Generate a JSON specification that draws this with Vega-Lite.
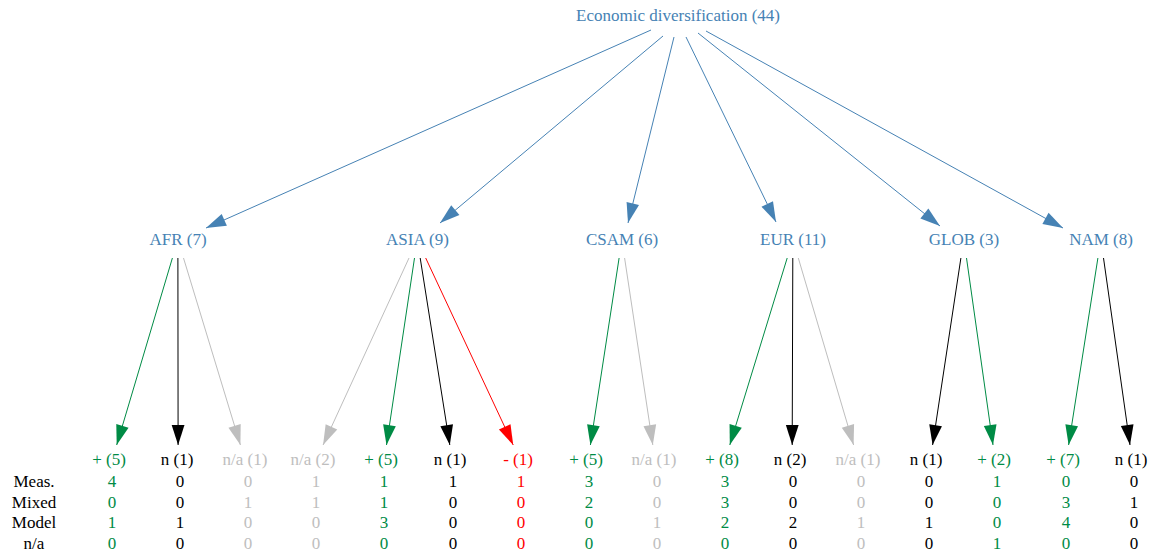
{
  "$schema": "https://vega.github.io/schema/vega-lite/v6.json",
  "width": 1153,
  "height": 554,
  "autosize": {"type": "fit", "contains": "padding"},
  "padding": 0,
  "background": "white",
  "config": {"view": {"stroke": null}},
  "datasets": {
    "edges": [
      {"x1": 651, "y1": 30, "x2": 206, "y2": 228, "k": "region"},
      {"x1": 663, "y1": 36, "x2": 440, "y2": 223, "k": "region"},
      {"x1": 674, "y1": 37, "x2": 628, "y2": 223, "k": "region"},
      {"x1": 686, "y1": 37, "x2": 776, "y2": 222, "k": "region"},
      {"x1": 698, "y1": 33, "x2": 940, "y2": 226, "k": "region"},
      {"x1": 706, "y1": 31, "x2": 1063, "y2": 228, "k": "region"},
      {"x1": 172.4, "y1": 258, "x2": 116.7, "y2": 445, "k": "+"},
      {"x1": 177.9, "y1": 258, "x2": 178.1, "y2": 445, "k": "n"},
      {"x1": 183.5, "y1": 258, "x2": 240.4, "y2": 445, "k": "n/a"},
      {"x1": 409.0, "y1": 258, "x2": 323.1, "y2": 445, "k": "n/a"},
      {"x1": 414.5, "y1": 258, "x2": 386.5, "y2": 445, "k": "+"},
      {"x1": 420.2, "y1": 258, "x2": 449.8, "y2": 445, "k": "n"},
      {"x1": 425.7, "y1": 258, "x2": 513.2, "y2": 445, "k": "-"},
      {"x1": 619.1, "y1": 258, "x2": 590.4, "y2": 445, "k": "+"},
      {"x1": 624.6, "y1": 258, "x2": 652.8, "y2": 445, "k": "n/a"},
      {"x1": 787.2, "y1": 258, "x2": 729.8, "y2": 445, "k": "+"},
      {"x1": 792.8, "y1": 258, "x2": 792.2, "y2": 445, "k": "n"},
      {"x1": 798.3, "y1": 258, "x2": 853.6, "y2": 445, "k": "n/a"},
      {"x1": 960.9, "y1": 258, "x2": 932.6, "y2": 445, "k": "n"},
      {"x1": 966.5, "y1": 258, "x2": 993.0, "y2": 445, "k": "+"},
      {"x1": 1097.9, "y1": 258, "x2": 1068.6, "y2": 445, "k": "+"},
      {"x1": 1103.5, "y1": 258, "x2": 1130.0, "y2": 445, "k": "n"}
    ],
    "nodes": [
      {"label": "Economic diversification (44)", "x": 678, "y": 16, "k": "region"},
      {"label": "AFR (7)", "x": 178, "y": 240, "k": "region"},
      {"label": "ASIA (9)", "x": 417.5, "y": 240, "k": "region"},
      {"label": "CSAM (6)", "x": 622, "y": 240, "k": "region"},
      {"label": "EUR (11)", "x": 793, "y": 240, "k": "region"},
      {"label": "GLOB (3)", "x": 964, "y": 240, "k": "region"},
      {"label": "NAM (8)", "x": 1101, "y": 240, "k": "region"}
    ],
    "leaves": [
      {"label": "+ (5)", "x": 109, "k": "+", "Meas": 4, "Mixed": 0, "Model": 1, "na": 0},
      {"label": "n (1)", "x": 177, "k": "n", "Meas": 0, "Mixed": 0, "Model": 1, "na": 0},
      {"label": "n/a (1)", "x": 245, "k": "n/a", "Meas": 0, "Mixed": 1, "Model": 0, "na": 0},
      {"label": "n/a (2)", "x": 313, "k": "n/a", "Meas": 1, "Mixed": 1, "Model": 0, "na": 0},
      {"label": "+ (5)", "x": 381, "k": "+", "Meas": 1, "Mixed": 1, "Model": 3, "na": 0},
      {"label": "n (1)", "x": 450, "k": "n", "Meas": 1, "Mixed": 0, "Model": 0, "na": 0},
      {"label": "- (1)", "x": 518, "k": "-", "Meas": 1, "Mixed": 0, "Model": 0, "na": 0},
      {"label": "+ (5)", "x": 586, "k": "+", "Meas": 3, "Mixed": 2, "Model": 0, "na": 0},
      {"label": "n/a (1)", "x": 654, "k": "n/a", "Meas": 0, "Mixed": 0, "Model": 1, "na": 0},
      {"label": "+ (8)", "x": 722, "k": "+", "Meas": 3, "Mixed": 3, "Model": 2, "na": 0},
      {"label": "n (2)", "x": 790, "k": "n", "Meas": 0, "Mixed": 0, "Model": 2, "na": 0},
      {"label": "n/a (1)", "x": 858, "k": "n/a", "Meas": 0, "Mixed": 0, "Model": 1, "na": 0},
      {"label": "n (1)", "x": 926, "k": "n", "Meas": 0, "Mixed": 0, "Model": 1, "na": 0},
      {"label": "+ (2)", "x": 994, "k": "+", "Meas": 1, "Mixed": 0, "Model": 0, "na": 1},
      {"label": "+ (7)", "x": 1063, "k": "+", "Meas": 0, "Mixed": 3, "Model": 4, "na": 0},
      {"label": "n (1)", "x": 1131, "k": "n", "Meas": 0, "Mixed": 1, "Model": 0, "na": 0}
    ],
    "rows": [
      {"key": "Meas", "row": "Meas.", "x": 34, "y": 482, "k": "label"},
      {"key": "Mixed", "row": "Mixed", "x": 34, "y": 502.5, "k": "label"},
      {"key": "Model", "row": "Model", "x": 34, "y": 523, "k": "label"},
      {"key": "na", "row": "n/a", "x": 34, "y": 544, "k": "label"}
    ]
  },
  "layer": [
    {
      "data": {"name": "edges"},
      "mark": {"type": "rule", "strokeWidth": 1},
      "encoding": {
        "x": {"field": "x1", "type": "quantitative", "scale": {"domain": [0, 1153], "nice": false, "zero": false}, "axis": null},
        "y": {"field": "y1", "type": "quantitative", "scale": {"domain": [0, 554], "reverse": true, "nice": false, "zero": false}, "axis": null},
        "x2": {"field": "x2"},
        "y2": {"field": "y2"},
        "color": {"field": "k", "type": "nominal", "legend": null,
          "scale": {"domain": ["region", "+", "n", "n/a", "-", "label"], "range": ["#4682b4", "#008b45", "#000000", "#bebebe", "#ff0000", "#000000"]}}
      }
    },
    {
      "data": {"name": "edges"},
      "transform": [{"calculate": "atan2(-(datum.x2 - datum.x1), datum.y2 - datum.y1) * 180 / PI", "as": "ang"}],
      "mark": {"type": "point", "shape": "M 0 0 L -0.32 -1 L 0.32 -1 Z", "filled": true, "size": 1600, "opacity": 1, "strokeWidth": 0},
      "encoding": {
        "x": {"field": "x2", "type": "quantitative"},
        "y": {"field": "y2", "type": "quantitative"},
        "angle": {"field": "ang", "type": "quantitative", "scale": null},
        "color": {"field": "k", "type": "nominal", "legend": null}
      }
    },
    {
      "data": {"name": "nodes"},
      "mark": {"type": "text", "align": "center", "baseline": "middle", "font": "Liberation Serif", "fontSize": 17},
      "encoding": {
        "x": {"field": "x", "type": "quantitative"},
        "y": {"field": "y", "type": "quantitative"},
        "text": {"field": "label"},
        "color": {"field": "k", "type": "nominal", "legend": null}
      }
    },
    {
      "data": {"name": "leaves"},
      "mark": {"type": "text", "align": "center", "baseline": "middle", "font": "Liberation Serif", "fontSize": 17},
      "encoding": {
        "x": {"field": "x", "type": "quantitative"},
        "y": {"datum": 460, "type": "quantitative"},
        "text": {"field": "label"},
        "color": {"field": "k", "type": "nominal", "legend": null}
      }
    },
    {
      "data": {"name": "leaves"},
      "transform": [
        {"fold": ["Meas", "Mixed", "Model", "na"], "as": ["key", "value"]},
        {"lookup": "key", "from": {"data": {"name": "rows"}, "key": "key", "fields": ["y"]}}
      ],
      "mark": {"type": "text", "align": "center", "baseline": "middle", "dx": 3, "font": "Liberation Serif", "fontSize": 17},
      "encoding": {
        "x": {"field": "x", "type": "quantitative"},
        "y": {"field": "y", "type": "quantitative"},
        "text": {"field": "value"},
        "color": {"field": "k", "type": "nominal", "legend": null}
      }
    },
    {
      "data": {"name": "rows"},
      "mark": {"type": "text", "align": "center", "baseline": "middle", "font": "Liberation Serif", "fontSize": 17},
      "encoding": {
        "x": {"field": "x", "type": "quantitative"},
        "y": {"field": "y", "type": "quantitative"},
        "text": {"field": "row"},
        "color": {"field": "k", "type": "nominal", "legend": null}
      }
    }
  ]
}
